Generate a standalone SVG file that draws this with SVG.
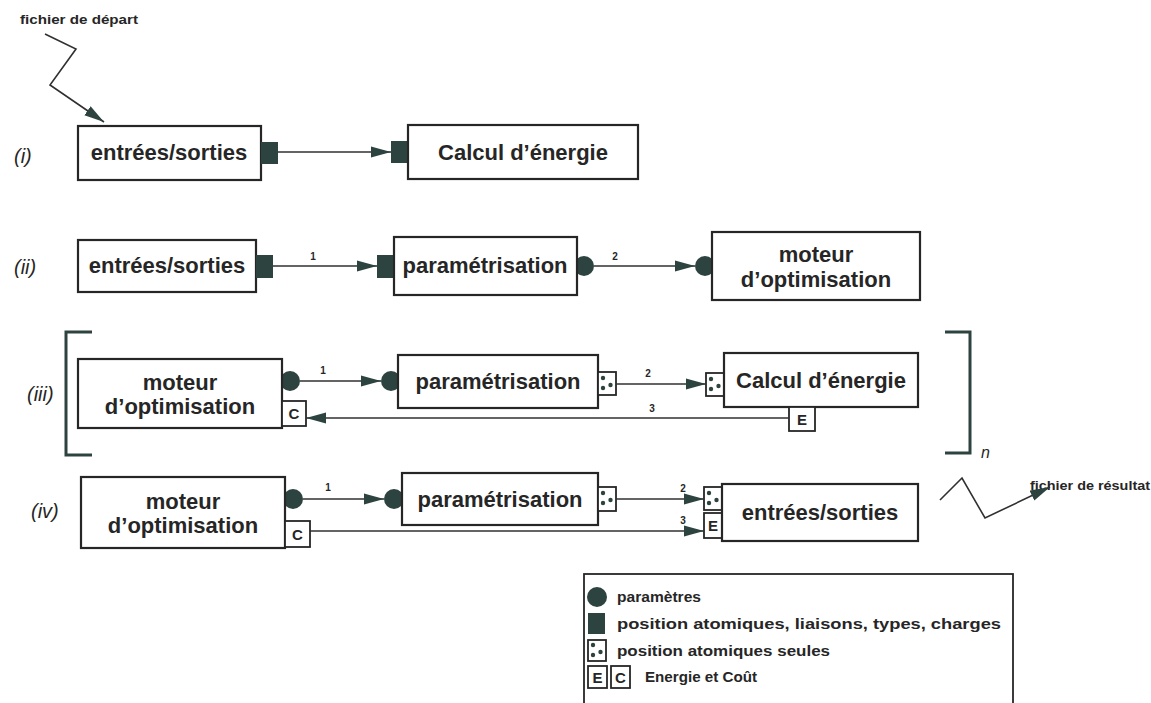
<svg xmlns="http://www.w3.org/2000/svg" width="1151" height="703" viewBox="0 0 1151 703">
<style>
.bg{fill:#fff}
.box{fill:#fff;stroke:#262626;stroke-width:2.2}
.pbox{fill:#fff;stroke:#262626;stroke-width:1.8}
.port{fill:#2d4340}
.dot{fill:#2d4340}
.lbl{font-family:"Liberation Sans",Arial,sans-serif;font-weight:bold;font-size:22px;fill:#262626;text-anchor:middle}
.plbl{font-family:"Liberation Sans",Arial,sans-serif;font-weight:bold;font-size:15px;fill:#262626;text-anchor:middle}
.num{font-family:"Liberation Sans",Arial,sans-serif;font-weight:bold;font-size:10px;fill:#262626;text-anchor:middle}
.rom{font-family:"Liberation Sans",Arial,sans-serif;font-style:italic;font-size:20px;fill:#262626}
.sm{font-family:"Liberation Sans",Arial,sans-serif;font-weight:bold;font-size:13px;fill:#262626}
.leg{font-family:"Liberation Sans",Arial,sans-serif;font-weight:bold;font-size:15px;fill:#262626}
.conn{stroke:#303030;stroke-width:1.6;fill:none}
.brk{stroke:#2d4340;stroke-width:3;fill:none}
</style>
<defs>
<marker id="ah" viewBox="0 0 20 12" refX="20" refY="6" markerWidth="20" markerHeight="12" markerUnits="userSpaceOnUse" orient="auto">
<path d="M0,0.5 L20,6 L0,11.5 Z" fill="#2d4340"/>
</marker>
<g id="dots">
<circle cx="5" cy="6" r="2.2" class="dot"/>
<circle cx="5" cy="16" r="2.2" class="dot"/>
<circle cx="12.5" cy="13" r="2.2" class="dot"/>
</g>
</defs>
<rect class="bg" x="0" y="0" width="1151" height="703"/>

<g id="roman">
<text class="rom" x="14" y="163">(i)</text>
<text class="rom" x="14" y="274">(ii)</text>
<text class="rom" x="27" y="401">(iii)</text>
<text class="rom" x="31" y="518">(iv)</text>
</g>

<!-- row (i) -->
<g id="io1">
<rect class="box" x="78" y="126" width="183" height="54"/>
<rect class="port" x="261" y="142" width="17" height="22"/>
<text class="lbl" x="169" y="160">entrées/sorties</text>
</g>
<g id="calc1">
<rect class="port" x="391" y="141" width="17" height="22"/>
<rect class="box" x="408" y="125" width="230" height="54"/>
<text class="lbl" x="523" y="160">Calcul d’énergie</text>
</g>

<!-- row (ii) -->
<g id="io2">
<rect class="box" x="78" y="240" width="178" height="52"/>
<rect class="port" x="256" y="255" width="17" height="23"/>
<text class="lbl" x="167" y="273">entrées/sorties</text>
</g>
<g id="param2">
<rect class="port" x="377" y="255" width="17" height="23"/>
<circle class="port" cx="584" cy="266" r="10"/>
<rect class="box" x="394" y="237" width="183" height="58"/>
<text class="lbl" x="485" y="273">paramétrisation</text>
</g>
<g id="moteur2">
<circle class="port" cx="705" cy="266" r="10"/>
<rect class="box" x="712" y="232" width="208" height="68"/>
<text class="lbl" x="816" y="262">moteur</text>
<text class="lbl" x="816" y="287">d’optimisation</text>
</g>

<!-- row (iii) -->
<g id="bracket">
<path class="brk" d="M92,332 H66 V455 H92"/>
<path class="brk" d="M945,332 H970 V453 H945"/>
<text class="rom" x="981" y="458" style="font-size:16px">n</text>
</g>
<g id="moteur3">
<circle class="port" cx="290" cy="381" r="10"/>
<rect class="box" x="78" y="359" width="204" height="69"/>
<rect class="pbox" x="282" y="401" width="24" height="25"/>
<text class="plbl" x="294" y="419">C</text>
<text class="lbl" x="180" y="390">moteur</text>
<text class="lbl" x="180" y="414">d’optimisation</text>
</g>
<g id="param3">
<circle class="port" cx="391" cy="381" r="10"/>
<rect class="box" x="398" y="355" width="200" height="53"/>
<rect class="pbox" x="598" y="372" width="18" height="23"/>
<use href="#dots" x="598" y="372"/>
<text class="lbl" x="498" y="389">paramétrisation</text>
</g>
<g id="calc3">
<rect class="pbox" x="706" y="373" width="18" height="23"/>
<use href="#dots" x="706" y="373"/>
<rect class="box" x="724" y="353" width="194" height="54"/>
<rect class="pbox" x="789" y="407" width="26" height="24"/>
<text class="plbl" x="802" y="425">E</text>
<text class="lbl" x="821" y="388">Calcul d’énergie</text>
</g>

<!-- row (iv) -->
<g id="moteur4">
<circle class="port" cx="293" cy="499" r="10"/>
<rect class="box" x="81" y="477" width="204" height="71"/>
<rect class="pbox" x="285" y="521" width="25" height="26"/>
<text class="plbl" x="297.5" y="540">C</text>
<text class="lbl" x="183" y="509">moteur</text>
<text class="lbl" x="183" y="533">d’optimisation</text>
</g>
<g id="param4">
<circle class="port" cx="394" cy="499" r="10"/>
<rect class="box" x="402" y="473" width="196" height="52"/>
<rect class="pbox" x="598" y="487" width="18" height="24"/>
<use href="#dots" x="598" y="487"/>
<text class="lbl" x="500" y="507">paramétrisation</text>
</g>
<g id="io4">
<rect class="pbox" x="704" y="487" width="18" height="23"/>
<use href="#dots" x="704" y="487"/>
<rect class="pbox" x="704" y="513" width="18" height="25"/>
<text class="plbl" x="713" y="531">E</text>
<rect class="box" x="722" y="484" width="196" height="57"/>
<text class="lbl" x="820" y="520">entrées/sorties</text>
</g>

<g id="start">
<text class="sm" x="20" y="24" textLength="118" lengthAdjust="spacingAndGlyphs">fichier de départ</text>
</g>
<g id="result">
<text class="sm" x="1030" y="490" textLength="120" lengthAdjust="spacingAndGlyphs">fichier de résultat</text>
</g>

<!-- connectors -->
<g id="connectors">
<polyline class="conn" points="45,34 76,49 50,85 104,122" marker-end="url(#ah)"/>
<line class="conn" x1="278" y1="152" x2="391" y2="152" marker-end="url(#ah)"/>
<line class="conn" x1="273" y1="266" x2="377" y2="266" marker-end="url(#ah)"/>
<text class="num" x="313" y="260">1</text>
<line class="conn" x1="594" y1="266" x2="695" y2="266" marker-end="url(#ah)"/>
<text class="num" x="615" y="260">2</text>
<line class="conn" x1="300" y1="381" x2="381" y2="381" marker-end="url(#ah)"/>
<text class="num" x="323" y="374">1</text>
<line class="conn" x1="616" y1="384" x2="706" y2="384" marker-end="url(#ah)"/>
<text class="num" x="648" y="377">2</text>
<line class="conn" x1="789" y1="418" x2="306" y2="418" marker-end="url(#ah)"/>
<text class="num" x="652" y="412">3</text>
<line class="conn" x1="303" y1="499" x2="384" y2="499" marker-end="url(#ah)"/>
<text class="num" x="328" y="491">1</text>
<line class="conn" x1="616" y1="499" x2="704" y2="499" marker-end="url(#ah)"/>
<text class="num" x="683" y="492">2</text>
<line class="conn" x1="310" y1="531" x2="704" y2="531" marker-end="url(#ah)"/>
<text class="num" x="683" y="524">3</text>
<polyline class="conn" points="940,500 962,478 985,518 1050,487" marker-end="url(#ah)"/>
</g>

<g id="legend">
<rect fill="#fff" stroke="#262626" stroke-width="1.8" x="584" y="574" width="429" height="140"/>
<circle class="port" cx="597" cy="597" r="10"/>
<text class="leg" x="617" y="602" textLength="84" lengthAdjust="spacingAndGlyphs">paramètres</text>
<rect class="port" x="588" y="613" width="17" height="21"/>
<text class="leg" x="617" y="629" textLength="384" lengthAdjust="spacingAndGlyphs">position atomiques, liaisons, types, charges</text>
<rect class="pbox" x="588" y="640" width="18" height="21"/>
<use href="#dots" x="588" y="639"/>
<text class="leg" x="617" y="656" textLength="213" lengthAdjust="spacingAndGlyphs">position atomiques seules</text>
<rect class="pbox" x="588" y="666" width="19" height="22"/>
<text class="plbl" x="597.5" y="683">E</text>
<rect class="pbox" x="611" y="666" width="19" height="22"/>
<text class="plbl" x="620.5" y="683">C</text>
<text class="leg" x="645" y="682" textLength="112" lengthAdjust="spacingAndGlyphs">Energie et Coût</text>
</g>
</svg>
